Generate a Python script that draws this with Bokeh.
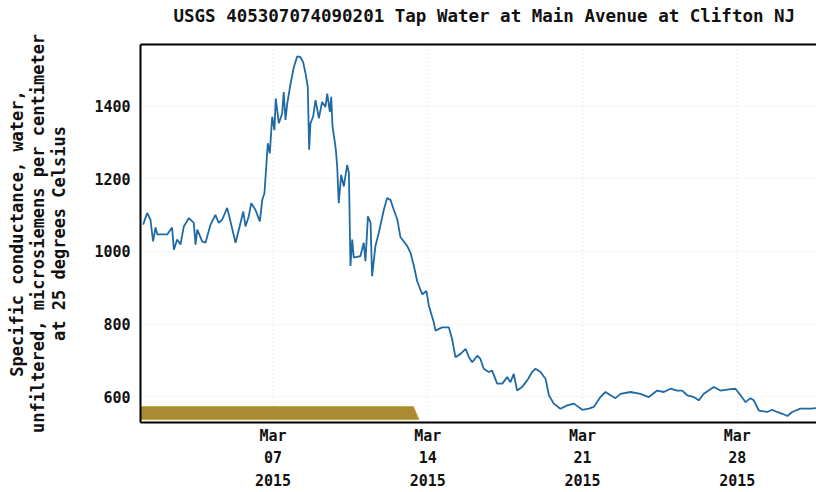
from datetime import datetime, timedelta
from bokeh.plotting import figure
from bokeh.models import (Range1d, FixedTicker, DatetimeTickFormatter, LinearAxis,
                          Title)
from bokeh.embed import file_html
from bokeh.resources import INLINE

# ---- data ----
start_date = datetime(2015, 3, 1)
days = [0.12, 0.30, 0.45, 0.57, 0.68, 0.76, 1.21, 1.43, 1.51, 1.66, 1.81, 1.96,
        2.19, 2.41, 2.49, 2.57, 2.79, 2.94, 3.17, 3.39, 3.54, 3.70, 3.92, 4.07,
        4.30, 4.45, 4.65, 4.75, 4.90, 5.01, 5.20, 5.40, 5.51, 5.61, 5.70, 5.76,
        5.85, 5.96, 6.06, 6.12, 6.26, 6.41, 6.48, 6.56, 6.64, 6.79, 6.94, 7.09,
        7.24, 7.36, 7.47, 7.57, 7.63, 7.69, 7.81, 7.92, 8.07, 8.22, 8.37, 8.45,
        8.57, 8.63, 8.69, 8.78, 8.84, 8.90, 8.97, 9.08, 9.20, 9.35, 9.43, 9.50,
        9.58, 9.65, 9.95, 10.10, 10.18, 10.29, 10.41, 10.48, 10.63, 10.78, 11.01,
        11.16, 11.31, 11.46, 11.62, 11.76, 12.07, 12.22, 12.37, 12.52, 12.75,
        12.94, 13.05, 13.27, 13.35, 13.65, 13.95, 14.10, 14.25, 14.48, 14.71,
        14.86, 15.01, 15.24, 15.38, 15.53, 15.76, 15.91, 16.14, 16.37, 16.59,
        16.74, 16.89, 17.04, 17.27, 17.50, 17.72, 17.87, 18.10, 18.33, 18.48,
        18.70, 19.00, 19.31, 19.61, 19.99, 20.29, 20.51, 20.81, 21.04, 21.27,
        21.49, 21.72, 22.17, 22.62, 23.00, 23.38, 23.68, 23.98, 24.28, 24.51,
        24.74, 25.04, 25.26, 25.49, 25.94, 26.24, 26.62, 26.92, 27.15, 27.38,
        27.60, 27.75, 27.98, 28.36, 28.58, 28.81, 29.04, 29.27, 29.49, 29.86,
        30.32, 30.59]
values = [1074, 1106, 1088, 1028, 1066, 1047, 1047, 1066, 1005, 1033, 1019, 1069,
          1092, 1079, 1019, 1060, 1028, 1024, 1074, 1101, 1079, 1088, 1120, 1083,
          1024, 1060, 1110, 1069, 1097, 1133, 1115, 1083, 1142, 1161, 1243, 1298,
          1270, 1371, 1334, 1421, 1353, 1380, 1439, 1362, 1407, 1462, 1508, 1537,
          1535, 1521, 1490, 1453, 1280, 1353, 1371, 1417, 1367, 1412, 1398, 1435,
          1384, 1426, 1343, 1307, 1280, 1234, 1133, 1211, 1179, 1238, 1216, 960,
          1033, 983, 987, 1024, 973, 1097, 1079, 932, 1015, 1051, 1115,
          1147, 1142, 1115, 1088, 1040, 1015, 996, 960, 918, 882,
          891, 850, 805, 782, 791, 791, 759, 709, 718, 732,
          709, 695, 713, 704, 677, 668, 672, 636, 636, 654,
          640, 663, 617, 627, 645, 668, 677, 668, 649, 604,
          581, 567, 576, 581, 564, 567, 572, 599, 613, 604,
          596, 608, 613, 608, 599, 617, 613, 622, 617, 617,
          604, 599, 590, 608, 627, 617, 620, 622, 604, 585,
          596, 590, 562, 558, 564, 558, 553, 547, 558, 567,
          567, 569]

# period bar shown at the bottom of the chart
period_start = [-0.2]
period_end = [12.6]
period_low = [537]
period_high = [573]

y_ticks = [600, 800, 1000, 1200, 1400]
x_tick_days = [6, 13, 20, 27]
title_text = "USGS 405307074090201 Tap Water at Main Avenue at Clifton NJ"
y_label = ("Specific conductance, water,\n"
           "unfiltered, microsiemens per centimeter\n"
           "at 25 degrees Celsius")

FONT = "DejaVu Sans Mono"
times = [start_date + timedelta(days=d) for d in days]

p = figure(width=816, height=492, output_backend="svg", toolbar_location=None,
           x_axis_type="datetime",
           x_range=Range1d(start_date, start_date + timedelta(days=676 / 22.1)),
           y_range=Range1d(529, 1570),
           min_border_left=140, min_border_right=0, min_border_top=44,
           min_border_bottom=68)
p.title = Title(text=title_text, align="left", text_font=FONT,
                text_font_size="17.5px", text_font_style="bold", offset=33,
                standoff=4, text_color="#111111")
p.outline_line_color = None
p.background_fill_color = "white"
p.border_fill_color = "white"

# grid
tick_ms = [(start_date + timedelta(days=d)).timestamp() * 1000 for d in x_tick_days]
p.xgrid.ticker = FixedTicker(ticks=tick_ms)
p.ygrid.ticker = FixedTicker(ticks=y_ticks)
for g in (p.xgrid, p.ygrid):
    g.grid_line_color = "#dcdcdc"
    g.grid_line_dash = "1 3"
    g.grid_line_width = 1

# period bar
for s, e, lo, hi in zip(period_start, period_end, period_low, period_high):
    xs = [start_date + timedelta(days=s), start_date + timedelta(days=s + 0.25),
          start_date + timedelta(days=e - 0.25), start_date + timedelta(days=e)]
    ys = [lo, hi, hi, lo]
    p.patch(xs, ys, fill_color="#a88b33", line_color="#c4aa45", line_width=1)

# series
p.line(times, values, line_color="#1f6aa5", line_width=1.8)

# axes
xa = p.xaxis[0]
xa.ticker = FixedTicker(ticks=tick_ms)
fmt = "%b\n%d\n%Y"
xa.formatter = DatetimeTickFormatter(days=fmt, months=fmt, hours=fmt, years=fmt,
                                     context=None)
ya = p.yaxis[0]
ya.ticker = FixedTicker(ticks=y_ticks)
ya.axis_label = y_label
for ax in (xa, ya):
    ax.axis_line_color = "black"
    ax.axis_line_width = 2
    ax.major_tick_line_color = None
    ax.minor_tick_line_color = None
    ax.major_tick_out = 0
    ax.major_tick_in = 0
    ax.minor_tick_out = 0
    ax.minor_tick_in = 0
    ax.major_label_text_font = FONT
    ax.major_label_text_font_style = "bold"
    ax.major_label_text_font_size = "15px"
    ax.major_label_text_color = "#111111"
xa.major_label_text_line_height = 1.25
xa.major_label_standoff = 4
ya.major_label_standoff = 10
ya.axis_label_text_font = FONT
ya.axis_label_text_font_style = "bold"
ya.axis_label_text_font_size = "17px"
ya.axis_label_text_line_height = 1.05
ya.axis_label_text_color = "#111111"
ya.axis_label_standoff = 22

# top frame line
top = LinearAxis(ticker=FixedTicker(ticks=[]), axis_line_color="black",
                 axis_line_width=2, major_tick_line_color=None,
                 minor_tick_line_color=None, major_tick_out=0, major_tick_in=0,
                 minor_tick_out=0, minor_tick_in=0,
                 major_label_text_font_size="0px", major_label_standoff=0)
p.add_layout(top, "above")
# blank spacer between the frame and the title
p.add_layout(Title(text=" ", text_font_size="13px", standoff=0), "above")

open("out.html", "w").write(file_html(p, INLINE))
